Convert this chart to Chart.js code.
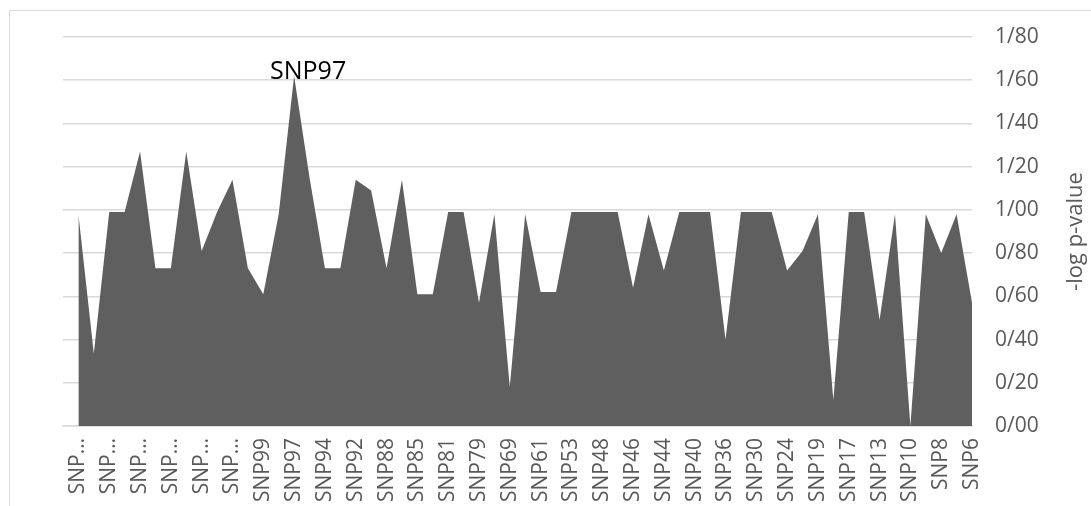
<html>
    <head>
        <title>SNP -log p-value</title>
        <style>
            body { margin: 0; background: #fff; }
            canvas { display: block; }
        </style>
    </head>
    <body>
        <canvas id="chart" width="1091" height="506"></canvas>
        <script src="https://cdn.jsdelivr.net/npm/chart.js"></script>
        <script>
            // leading '' is the empty first row of the sheet (area starts one step in)
            var snps = ['',
                'SNP111', 'SNP110', 'SNP109', 'SNP108', 'SNP107', 'SNP106', 'SNP105', 'SNP104', 'SNP103', 'SNP102',
                'SNP101', 'SNP100', 'SNP99', 'SNP98', 'SNP97', 'SNP96', 'SNP94', 'SNP93', 'SNP92', 'SNP90',
                'SNP88', 'SNP86', 'SNP85', 'SNP83', 'SNP81', 'SNP80', 'SNP79', 'SNP74', 'SNP69', 'SNP65',
                'SNP61', 'SNP56', 'SNP53', 'SNP50', 'SNP48', 'SNP47', 'SNP46', 'SNP45', 'SNP44', 'SNP42',
                'SNP40', 'SNP38', 'SNP36', 'SNP33', 'SNP30', 'SNP27', 'SNP24', 'SNP21', 'SNP19', 'SNP18',
                'SNP17', 'SNP15', 'SNP13', 'SNP11', 'SNP10', 'SNP9', 'SNP8', 'SNP7', 'SNP6'];
            var logP = [null,
                0.98, 0.335, 0.99, 0.99, 1.27, 0.73, 0.73, 1.27, 0.81, 0.99,
                1.14, 0.73, 0.61, 0.98, 1.62, 1.15, 0.73, 0.73, 1.14, 1.09,
                0.73, 1.14, 0.61, 0.61, 0.99, 0.99, 0.57, 0.98, 0.18, 0.98,
                0.62, 0.62, 0.99, 0.99, 0.99, 0.99, 0.64, 0.98, 0.72, 0.99,
                0.99, 0.99, 0.40, 0.99, 0.99, 0.99, 0.72, 0.81, 0.98, 0.12,
                0.99, 0.99, 0.49, 0.98, 0.0, 0.98, 0.80, 0.98, 0.57];
            var yTicks = [0, 0.2, 0.4, 0.6, 0.8, 1.0, 1.2, 1.4, 1.6, 1.8];
            var axisTitle = '-log p-value';

            var peak = 0;
            logP.forEach(function(v, i) { if (v !== null && v > logP[peak]) peak = i; });

            Chart.defaults.font.family = "'Open Sans', sans-serif";

            var extras = {
                id: 'extras',
                beforeDraw: function(c) {
                    var g = c.ctx;
                    g.save();
                    g.strokeStyle = '#d9d9d9';
                    g.lineWidth = 1;
                    g.beginPath();
                    g.moveTo(9.5, 506); g.lineTo(9.5, 10.5); g.lineTo(1091, 10.5);
                    g.stroke();
                    g.restore();
                },
                afterDraw: function(c) {
                    var g = c.ctx, a = c.chartArea;
                    var pt = c.getDatasetMeta(0).data[peak];
                    g.save();
                    g.fillStyle = '#000';
                    g.font = "25px 'Open Sans'";
                    g.textAlign = 'center';
                    g.textBaseline = 'alphabetic';
                    g.fillText(snps[peak], pt.x + 14, pt.y + 3);
                    g.translate(1076, (a.top + a.bottom) / 2);
                    g.rotate(-Math.PI / 2);
                    g.fillStyle = '#595959';
                    g.font = "22px 'Open Sans'";
                    g.textBaseline = 'middle';
                    g.fillText(axisTitle, 0, 0);
                    g.restore();
                }
            };

            new Chart(document.getElementById('chart'), {
                type: 'line',
                data: {
                    labels: snps,
                    datasets: [{
                        data: logP,
                        fill: 'origin',
                        backgroundColor: '#5f5f5f',
                        borderWidth: 0,
                        pointRadius: 0,
                        tension: 0
                    }]
                },
                options: {
                    responsive: false,
                    animation: false,
                    layout: { padding: { top: 37, left: 63, right: 0, bottom: 0 } },
                    plugins: { legend: { display: false }, tooltip: { enabled: false } },
                    scales: {
                        x: {
                            offset: false,
                            grid: { display: false, drawTicks: false },
                            border: { display: true, color: '#d9d9d9', width: 1.5 },
                            ticks: {
                                autoSkip: false,
                                minRotation: 90,
                                maxRotation: 90,
                                padding: 12,
                                color: '#595959',
                                font: { size: 21 },
                                callback: function(v, i) {
                                    if (i % 2 === 0) return null;
                                    var s = snps[i];
                                    return s.length > 5 ? 'SNP\u2026' : s;
                                }
                            },
                            afterFit: function(s) { s.height = 80; }
                        },
                        y: {
                            position: 'right',
                            min: 0,
                            max: 1.8,
                            afterBuildTicks: function(s) {
                                s.ticks = yTicks.map(function(v) { return { value: v }; });
                            },
                            grid: { color: '#d9d9d9', lineWidth: 1.5, drawTicks: false },
                            border: { display: false },
                            ticks: {
                                padding: 23,
                                color: '#595959',
                                font: { size: 21 },
                                callback: function(v) { return v.toFixed(2).replace('.', '/'); }
                            },
                            afterFit: function(s) { s.width = 119; }
                        }
                    }
                },
                plugins: [extras]
            });
        </script>
    </body>
</html>
